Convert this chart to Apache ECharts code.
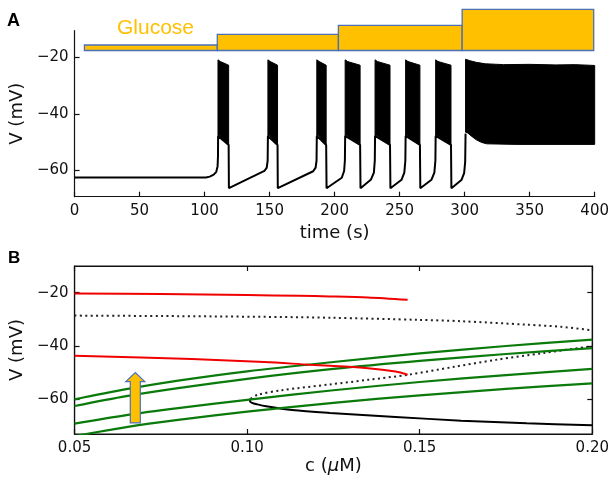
<!DOCTYPE html>
<html><head><meta charset="utf-8">
<script src="https://cdn.jsdelivr.net/npm/echarts@6/dist/echarts.min.js"></script>
<style>html,body{margin:0;padding:0;background:#fff}#c{width:612px;height:483px}</style>
</head><body><div id="c"></div>
<script>
// ---------- Panel A : glucose steps ----------
const glucoseStart = [8, 110, 203, 298];
const glucoseEnd   = [110, 203, 298, 399];
const glucoseLevel = [5.5, 16.2, 25.2, 41.2];

// ---------- Panel A : voltage trace (silent phases + burst edges) ----------
const silentTrace = [
  [0,-62.5],[101,-62.5],[104,-62.2],[107,-61.5],[109,-60.5],[110,-58.5],[110.3,-55],[110.4,-47.8],
  [118.5,-51],[118.7,-66.3],[146,-60.2],[147.8,-59],[148.5,-56.5],[148.7,-47.8],
  [156.1,-51],[156.3,-66.3],[183.5,-60.3],[185.4,-59],[186.1,-56.5],[186.3,-47.8],
  [193.5,-51],[193.8,-66.3],[205.5,-62.6],[207.3,-60.2],[207.9,-56.5],[208.1,-47.8],
  [219.6,-51],[219.9,-66.3],[228,-63.2],[230.2,-60.8],[230.9,-56.5],[231.1,-47.8],
  [242.6,-51],[242.9,-66.3],[251.5,-63.3],[253.6,-60.8],[254.4,-56.5],[254.6,-47.8],
  [265.6,-51],[265.9,-66.3],[274.5,-63.3],[276.7,-60.8],[277.5,-56.5],[277.7,-47.8],
  [289.5,-51],[289.8,-66.3],[297.5,-63.4],[299.6,-61],[300.4,-57],[300.7,-47]
];
// burst envelopes (upper and lower edge of the fast spiking)
const burstUpper = [
  [[110.3,-20.9],[112.1,-21.5],[118.5,-22.8]],
  [[148.7,-20.9],[150.5,-21.5],[156.1,-22.8]],
  [[186.3,-20.9],[188.1,-21.5],[193.5,-22.8]],
  [[208.1,-20.9],[209.9,-21.5],[219.6,-22.8]],
  [[231.1,-20.9],[232.9,-21.5],[242.6,-22.8]],
  [[254.6,-20.9],[256.4,-21.5],[265.6,-22.8]],
  [[277.7,-20.9],[279.5,-21.5],[289.5,-22.8]],
  [[300.7,-20.7],[304,-21.2],[309,-21.8],[316,-22.3],[330,-22.6],[350,-22.5],[370,-22.7],[385,-22.6],[400,-22.9]]
];
const burstLower = [
  [[110.3,-47.8],[111.3,-47.6],[118.5,-51]],
  [[148.7,-47.8],[149.7,-47.6],[156.1,-51]],
  [[186.3,-47.8],[187.3,-47.6],[193.5,-51]],
  [[208.1,-47.8],[209.1,-47.6],[219.6,-51]],
  [[231.1,-47.8],[232.1,-47.6],[242.6,-51]],
  [[254.6,-47.8],[255.6,-47.6],[265.6,-51]],
  [[277.7,-47.8],[278.7,-47.6],[289.5,-51]],
  [[300.7,-46.5],[302.5,-46.8],[305,-47.8],[309,-49.2],[313,-50.1],[317,-50.6],[340,-50.8],[400,-50.8]]
];
const voltTicks = [-60, -40, -20];
const timeTicksStep = 50;

// ---------- Panel B : bifurcation diagram ----------
const redUpper = [[0.05,-20.3],[0.075,-20.5],[0.10,-20.9],[0.115,-21.2],[0.124,-21.4],[0.135,-21.8],[0.1465,-22.7]];
const redLower = [[0.05,-43.7],[0.084,-44.9],[0.105,-46.0],[0.118,-47.0],[0.124,-47.4],[0.135,-48.3],[0.143,-49.6],[0.1465,-50.8]];
const dotUpper = [[0.05,-28.6],[0.08,-28.8],[0.115,-29.2],[0.124,-29.4],[0.15,-30.2],[0.162,-30.7],[0.181,-32.0],[0.191,-32.8],[0.2,-34.1]];
const dotLower = [[0.1010,-59.8],[0.103,-58.3],[0.11,-56.6],[0.124,-54.4],[0.135,-52.7],[0.1465,-50.8],[0.16,-47.8],[0.172,-45.2],[0.186,-42.6],[0.2,-40.1]];
const blackLower = [[0.1010,-59.8],[0.1008,-60.6],[0.1014,-61.3],[0.103,-61.9],[0.1055,-62.6],[0.113,-64.0],[0.124,-65.1],[0.143,-66.6],[0.162,-68.0],[0.181,-69.0],[0.2,-69.7]];
const green1 = [[0.05,-60.0],[0.065,-56.2],[0.08,-53.0],[0.10,-49.5],[0.125,-46.0],[0.15,-42.8],[0.175,-40.0],[0.2,-37.6]];
const green2 = [[0.05,-62.5],[0.065,-58.8],[0.08,-55.8],[0.10,-52.3],[0.125,-48.6],[0.15,-45.6],[0.175,-43.0],[0.2,-40.8]];
const green3 = [[0.05,-69.1],[0.065,-65.9],[0.08,-63.3],[0.10,-60.2],[0.125,-56.6],[0.15,-53.5],[0.175,-50.9],[0.2,-48.6]];
const green4 = [[0.05,-73.8],[0.065,-70.4],[0.08,-67.7],[0.10,-64.6],[0.125,-61.3],[0.15,-58.5],[0.175,-56.1],[0.2,-54.0]];
const arrowData = [[0.0676, -68.8, -50.0]]; // c, V bottom, V top

const FONT = 'DejaVu Sans';
const minus = v => String(v).replace('-', '\u2212');
const axisLineStyle = {color:'#111', width:1.2};

const chart = echarts.init(document.getElementById('c'), null, {renderer:'canvas'});

function burstItem(params, api) {
  const i = params.dataIndex;
  const up = burstUpper[i].map(p => api.coord(p));
  const lo = burstLower[i].slice().reverse().map(p => api.coord(p));
  return {type:'polygon', shape:{points: up.concat(lo)}, style:{fill:'#000', stroke:'#000', lineWidth:1}};
}
function glucoseItem(params, api) {
  const p0 = api.coord([api.value(0), 0]);
  const p1 = api.coord([api.value(1), api.value(2)]);
  return {type:'rect', shape:{x:p0[0], y:p1[1], width:p1[0]-p0[0], height:p0[1]-p1[1]},
    style:{fill:'#FFC000', stroke:'#4A70B8', lineWidth:1.3}};
}
function arrowItem(params, api) {
  const b = api.coord([api.value(0), api.value(1)]);
  const t = api.coord([api.value(0), api.value(2)]);
  const x = b[0], bw = 5, hw = 9.5, hl = 9;
  return {type:'polygon', shape:{points:[[x-bw,b[1]],[x+bw,b[1]],[x+bw,t[1]+hl],[x+hw,t[1]+hl],[x,t[1]],[x-hw,t[1]+hl],[x-bw,t[1]+hl]]},
    style:{fill:'#FFC000', stroke:'#4A70B8', lineWidth:1.2}};
}

const option = {
  animation:false,
  backgroundColor:'#fff',
  grid:[
    {left:74, right:17, top:30.7, height:166},
    {left:74, right:17, top:9.3, height:41.2},
    {left:74, right:17, top:266, height:168, show:true, borderColor:'#111', borderWidth:1.2, backgroundColor:'transparent'}
  ],
  xAxis:[
    {gridIndex:0, type:'value', min:0, max:400, interval:timeTicksStep,
     axisLine:{lineStyle:axisLineStyle}, axisTick:{inside:true, length:5, lineStyle:axisLineStyle},
     axisLabel:{fontFamily:FONT, fontSize:15, color:'#111', margin:7}, splitLine:{show:false},
     name:'time (s)', nameLocation:'middle', nameGap:28, nameTextStyle:{fontFamily:FONT, fontSize:18, color:'#111'}},
    {gridIndex:1, type:'value', min:0, max:400, show:false},
    {gridIndex:2, type:'value', min:0.05, max:0.2, interval:0.05,
     axisLine:{lineStyle:axisLineStyle}, axisTick:{inside:true, length:5, lineStyle:axisLineStyle},
     axisLabel:{fontFamily:FONT, fontSize:15, color:'#111', margin:7, formatter:v=>v.toFixed(2)}, splitLine:{show:false},
     name:'{a|c (}{b|\u03bc}{a|M)}', nameLocation:'middle', nameGap:22,
     nameTextStyle:{fontFamily:FONT, fontSize:18, color:'#111', rich:{a:{fontFamily:FONT, fontSize:18, color:'#111'}, b:{fontFamily:FONT, fontSize:18, fontStyle:'italic', color:'#111'}}}},
    {gridIndex:2, type:'value', position:'top', min:0.05, max:0.2, interval:0.05,
     axisLine:{lineStyle:axisLineStyle}, axisTick:{inside:true, length:5, lineStyle:axisLineStyle},
     axisLabel:{show:false}, splitLine:{show:false}}
  ],
  yAxis:[
    {gridIndex:0, type:'value', min:-69.3, max:-10.6,
     axisLine:{show:true, lineStyle:axisLineStyle}, axisTick:{show:true, inside:true, length:5, customValues:voltTicks, lineStyle:axisLineStyle},
     axisLabel:{fontFamily:FONT, fontSize:15, color:'#111', margin:6, customValues:voltTicks, formatter:minus}, splitLine:{show:false},
     name:'V (mV)', nameLocation:'middle', nameGap:42, nameRotate:90, nameTextStyle:{fontFamily:FONT, fontSize:18, color:'#111'}},
    {gridIndex:1, type:'value', min:0, max:41.2, show:false},
    {gridIndex:2, type:'value', min:-73, max:-10,
     axisLine:{show:true, lineStyle:axisLineStyle}, axisTick:{show:true, inside:true, length:5, customValues:voltTicks, lineStyle:axisLineStyle},
     axisLabel:{fontFamily:FONT, fontSize:15, color:'#111', margin:6, customValues:voltTicks, formatter:minus}, splitLine:{show:false},
     name:'V (mV)', nameLocation:'middle', nameGap:42, nameRotate:90, nameTextStyle:{fontFamily:FONT, fontSize:18, color:'#111'}},
    {gridIndex:2, type:'value', position:'right', min:-73, max:-10,
     axisLine:{show:true, lineStyle:axisLineStyle}, axisTick:{show:true, inside:true, length:5, customValues:voltTicks, lineStyle:axisLineStyle},
     axisLabel:{show:false}, splitLine:{show:false}}
  ],
  series:[
    {type:'custom', xAxisIndex:1, yAxisIndex:1, renderItem:glucoseItem,
     data: glucoseStart.map((s,i)=>[s, glucoseEnd[i], glucoseLevel[i]])},
    {type:'custom', xAxisIndex:0, yAxisIndex:0, renderItem:burstItem, clip:true,
     data: burstUpper.map((u,i)=>[u[0][0], u[0][1]])},
    {type:'line', xAxisIndex:0, yAxisIndex:0, data:silentTrace, showSymbol:false, clip:true,
     lineStyle:{color:'#000', width:2}},
    {type:'line', xAxisIndex:2, yAxisIndex:2, data:dotUpper, showSymbol:false, smooth:0.3, lineStyle:{color:'#222', width:2, type:[2,3.4]}},
    {type:'line', xAxisIndex:2, yAxisIndex:2, data:dotLower, showSymbol:false, smooth:0.3, lineStyle:{color:'#222', width:2, type:[2,3.4]}},
    {type:'line', xAxisIndex:2, yAxisIndex:2, data:blackLower, showSymbol:false, smooth:0.3, lineStyle:{color:'#000', width:2}},
    {type:'line', xAxisIndex:2, yAxisIndex:2, data:green1, showSymbol:false, smooth:0.3, clip:true, lineStyle:{color:'#0A7A0A', width:2.2}},
    {type:'line', xAxisIndex:2, yAxisIndex:2, data:green2, showSymbol:false, smooth:0.3, clip:true, lineStyle:{color:'#0A7A0A', width:2.2}},
    {type:'line', xAxisIndex:2, yAxisIndex:2, data:green3, showSymbol:false, smooth:0.3, clip:true, lineStyle:{color:'#0A7A0A', width:2.2}},
    {type:'line', xAxisIndex:2, yAxisIndex:2, data:green4, showSymbol:false, smooth:0.3, clip:true, lineStyle:{color:'#0A7A0A', width:2.2}},
    {type:'line', xAxisIndex:2, yAxisIndex:2, data:redUpper, showSymbol:false, smooth:0.3, lineStyle:{color:'#F00000', width:2}},
    {type:'line', xAxisIndex:2, yAxisIndex:2, data:redLower, showSymbol:false, smooth:0.3, lineStyle:{color:'#F00000', width:2}},
    {type:'custom', xAxisIndex:2, yAxisIndex:2, renderItem:arrowItem, data:arrowData, z:10}
  ],
  graphic:[
    {type:'text', left:7, top:12, style:{text:'A', font:'bold 18px "Liberation Sans"', fill:'#000'}},
    {type:'text', left:8, top:250, style:{text:'B', font:'bold 17px "Liberation Sans"', fill:'#000'}},
    {type:'text', left:117, top:18, style:{text:'Glucose', font:'21px "Liberation Sans"', fill:'#FFC000'}}
  ]
};
chart.setOption(option);
</script></body></html>
